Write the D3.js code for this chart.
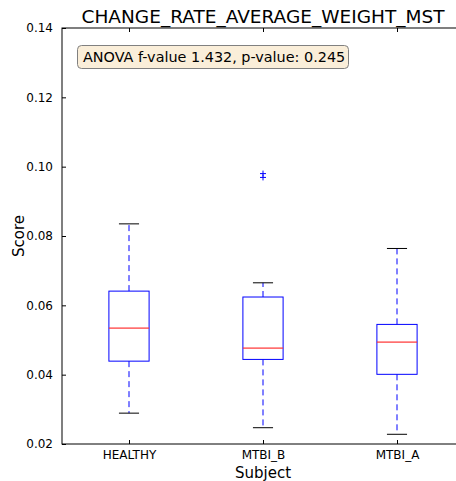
<!DOCTYPE html>
<html>
<head>
<meta charset="utf-8">
<script src="https://cdn.jsdelivr.net/npm/d3@7"></script>
<style>
  html, body { margin: 0; padding: 0; background: #fff; }
  svg { display: block; }
  text { font-family: "DejaVu Sans", sans-serif; }
</style>
</head>
<body>
<script>
// ---- data ----
const categories = ["HEALTHY", "MTBI_B", "MTBI_A"];
const whiskerLow  = [0.0289, 0.0247, 0.0228];
const q1          = [0.0439, 0.0444, 0.0401];
const median      = [0.0536, 0.0477, 0.0494];
const q3          = [0.0641, 0.0624, 0.0545];
const whiskerHigh = [0.0835, 0.0665, 0.0764];
const outliers    = [[], [0.0980, 0.0969], []];
const yTicks = [0.02, 0.04, 0.06, 0.08, 0.10, 0.12, 0.14];
const title = "CHANGE_RATE_AVERAGE_WEIGHT_MST";
const annotation = "ANOVA f-value 1.432, p-value: 0.245";

// ---- layout ----
const W = 456, H = 481;
const mLeft = 62, mRight = 464, mTop = 28, mBottom = 444;

const svg = d3.select("body").append("svg").attr("width", W).attr("height", H);

const x = d3.scaleLinear().domain([0.5, 3.5]).range([mLeft, mRight]);
const y = d3.scaleLinear().domain([0.02, 0.14]).range([mBottom, mTop]);

const boxW = x(1.3) - x(1.0);   // width 0.3 in data units
const capW = boxW / 2;

const g = svg.append("g");

categories.forEach((c, i) => {
  const cx = x(i + 1);
  g.append("line").attr("x1", cx).attr("x2", cx)
    .attr("y1", y(q3[i])).attr("y2", y(whiskerHigh[i]))
    .attr("stroke", "#0000ff").attr("stroke-width", 1).attr("stroke-dasharray", "6,4");
  g.append("line").attr("x1", cx).attr("x2", cx)
    .attr("y1", y(q1[i])).attr("y2", y(whiskerLow[i]))
    .attr("stroke", "#0000ff").attr("stroke-width", 1).attr("stroke-dasharray", "6,4");
  [whiskerLow[i], whiskerHigh[i]].forEach(v => {
    g.append("line").attr("x1", cx - capW / 2).attr("x2", cx + capW / 2)
      .attr("y1", y(v)).attr("y2", y(v))
      .attr("stroke", "#000").attr("stroke-width", 1);
  });
  g.append("rect").attr("x", cx - boxW / 2).attr("y", y(q3[i]))
    .attr("width", boxW).attr("height", y(q1[i]) - y(q3[i]))
    .attr("fill", "none").attr("stroke", "#0000ff").attr("stroke-width", 1);
  outliers[i].forEach(v => {
    g.append("path")
      .attr("d", `M${cx - 3},${y(v)}H${cx + 3}M${cx},${y(v) - 3}V${y(v) + 3}`)
      .attr("stroke", "#0000ff").attr("stroke-width", 1).attr("fill", "none");
  });
});

// medians drawn as filled rects
g.selectAll("rect.median").data(median).join("rect")
  .attr("class", "median")
  .attr("x", (d, i) => x(i + 1) - boxW / 2)
  .attr("y", d => Math.round(y(d)) - 0.5)
  .attr("width", boxW).attr("height", 1.2)
  .attr("fill", "#ff3333");

// ---- axes (classic matplotlib: ticks inward) ----
const yAxis = d3.axisLeft(y).tickValues(yTicks).tickFormat(d3.format(".2f"))
  .tickSizeInner(-4).tickSizeOuter(0).tickPadding(9);
const ya = svg.append("g").attr("transform", `translate(${mLeft},0)`).call(yAxis);
ya.select(".domain").remove();
ya.selectAll("text").attr("font-size", 12).attr("fill", "#000").attr("font-family", "DejaVu Sans");
ya.selectAll("line").attr("stroke", "#000");

const xAxis = d3.axisBottom(x).tickValues([1, 2, 3]).tickFormat((d) => categories[d - 1])
  .tickSizeInner(-4).tickSizeOuter(0).tickPadding(6);
const xa = svg.append("g").attr("transform", `translate(0,${mBottom})`).call(xAxis);
xa.select(".domain").remove();
xa.selectAll("text").attr("font-size", 12).attr("fill", "#000").attr("font-family", "DejaVu Sans");
xa.selectAll("line").attr("stroke", "#000");

const xTop = d3.axisTop(x).tickValues([1, 2, 3]).tickFormat("").tickSizeInner(-4).tickSizeOuter(0);
const xt = svg.append("g").attr("transform", `translate(0,${mTop})`).call(xTop);
xt.select(".domain").remove();
xt.selectAll("line").attr("stroke", "#000");

svg.append("rect").attr("x", mLeft).attr("y", mTop)
  .attr("width", mRight - mLeft).attr("height", mBottom - mTop)
  .attr("fill", "none").attr("stroke", "#000").attr("stroke-width", 1);

svg.append("text").attr("x", (mLeft + mRight) / 2).attr("y", 23)
  .attr("text-anchor", "middle").attr("font-size", 18.5).attr("fill", "#000").text(title);
svg.append("text").attr("x", (mLeft + mRight) / 2).attr("y", 478)
  .attr("text-anchor", "middle").attr("font-size", 15).attr("fill", "#000").text("Subject");
svg.append("text").attr("transform", `translate(24,${(mTop + mBottom) / 2}) rotate(-90)`)
  .attr("text-anchor", "middle").attr("font-size", 15).attr("fill", "#000").text("Score");

const ann = svg.append("g");
ann.append("rect").attr("x", 77.5).attr("y", 45.5).attr("width", 271).attr("height", 23)
  .attr("rx", 4).attr("ry", 4)
  .attr("fill", "#f5deb3").attr("fill-opacity", 0.5)
  .attr("stroke", "#808080").attr("stroke-width", 1);
ann.append("text").attr("x", 83).attr("y", 61.5).attr("font-size", 14.4).attr("fill", "#000").text(annotation);
</script>
</body>
</html>
